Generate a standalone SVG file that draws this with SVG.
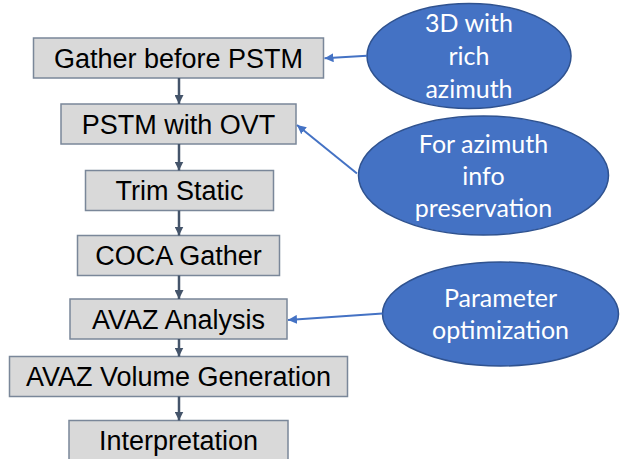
<svg xmlns="http://www.w3.org/2000/svg" width="621" height="459" viewBox="0 0 621 459">
  <style>
    .step rect { fill: #D9D9D9; stroke: #7A8799; stroke-width: 1.5; }
    .step text { font-family: "Liberation Sans", Arial, sans-serif; font-size: 27px; fill: #000; text-anchor: middle; }
    .note ellipse { fill: #4472C4; stroke: #2F528F; stroke-width: 1.5; }
    .note text { font-family: Lato, "Open Sans", sans-serif; font-size: 25px; fill: #fff; text-anchor: middle; }
    .flow { stroke: #44546A; stroke-width: 2.5; fill: none; marker-end: url(#headDark); }
    .link { stroke: #4472C4; stroke-width: 2; fill: none; marker-end: url(#headBlue); }
  </style>
  <defs>
    <marker id="headDark" markerUnits="userSpaceOnUse" viewBox="0 0 10 10" refX="10" refY="5" markerWidth="9" markerHeight="9" orient="auto">
      <path d="M0,0 L10,5 L0,10 Z" fill="#44546A"/>
    </marker>
    <marker id="headBlue" markerUnits="userSpaceOnUse" viewBox="0 0 10 10" refX="10" refY="5" markerWidth="9" markerHeight="9" orient="auto">
      <path d="M0,0 L10,5 L0,10 Z" fill="#4472C4"/>
    </marker>
  </defs>

  <!-- process steps -->
  <g id="gather-before-pstm" class="step">
    <rect x="33.5" y="38" width="290" height="40"/>
    <text x="178.5" y="67.5">Gather before PSTM</text>
  </g>
  <g id="pstm-with-ovt" class="step">
    <rect x="61" y="104" width="235" height="40"/>
    <text x="178.5" y="133.5">PSTM with OVT</text>
  </g>
  <g id="trim-static" class="step">
    <rect x="85.5" y="170.5" width="188" height="40"/>
    <text x="179.5" y="200">Trim Static</text>
  </g>
  <g id="coca-gather" class="step">
    <rect x="77.5" y="235.5" width="202" height="40"/>
    <text x="178.5" y="265">COCA Gather</text>
  </g>
  <g id="avaz-analysis" class="step">
    <rect x="70" y="299" width="217" height="40"/>
    <text x="178.5" y="328.5">AVAZ Analysis</text>
  </g>
  <g id="avaz-volume-generation" class="step">
    <rect x="9.5" y="356.5" width="338" height="40"/>
    <text x="178.5" y="386">AVAZ Volume Generation</text>
  </g>
  <g id="interpretation" class="step">
    <rect x="69" y="420.5" width="219" height="40"/>
    <text x="178.5" y="450">Interpretation</text>
  </g>

  <!-- annotations -->
  <g id="note-3d-azimuth" class="note">
    <ellipse cx="469" cy="56" rx="102" ry="52.5"/>
    <text x="469" y="32">3D with</text>
    <text x="469" y="65">rich</text>
    <text x="469" y="97.5">azimuth</text>
  </g>
  <g id="note-azimuth-preservation" class="note">
    <ellipse cx="483.5" cy="175.5" rx="125" ry="59.5"/>
    <text x="483.5" y="152.5">For azimuth</text>
    <text x="483.5" y="185">info</text>
    <text x="483.5" y="216.5">preservation</text>
  </g>
  <g id="note-parameter-optimization" class="note">
    <ellipse cx="500.5" cy="314" rx="118" ry="52"/>
    <text x="500.5" y="306.5">Parameter</text>
    <text x="500.5" y="339">optimization</text>
  </g>

  <!-- connectors -->
  <g id="connectors">
    <line class="flow" x1="179" y1="78" x2="179" y2="104"/>
    <line class="flow" x1="179" y1="144" x2="179" y2="170.5"/>
    <line class="flow" x1="179" y1="210.5" x2="179" y2="235.5"/>
    <line class="flow" x1="179" y1="275.5" x2="179" y2="299"/>
    <line class="flow" x1="179" y1="339" x2="179" y2="356.5"/>
    <line class="flow" x1="179" y1="396.5" x2="179" y2="420.5"/>
    <line class="link" x1="367" y1="55.7" x2="324.5" y2="58.3"/>
    <line class="link" x1="357" y1="173.5" x2="297" y2="125"/>
    <line class="link" x1="382.5" y1="313.5" x2="288" y2="320"/>
  </g>
</svg>
